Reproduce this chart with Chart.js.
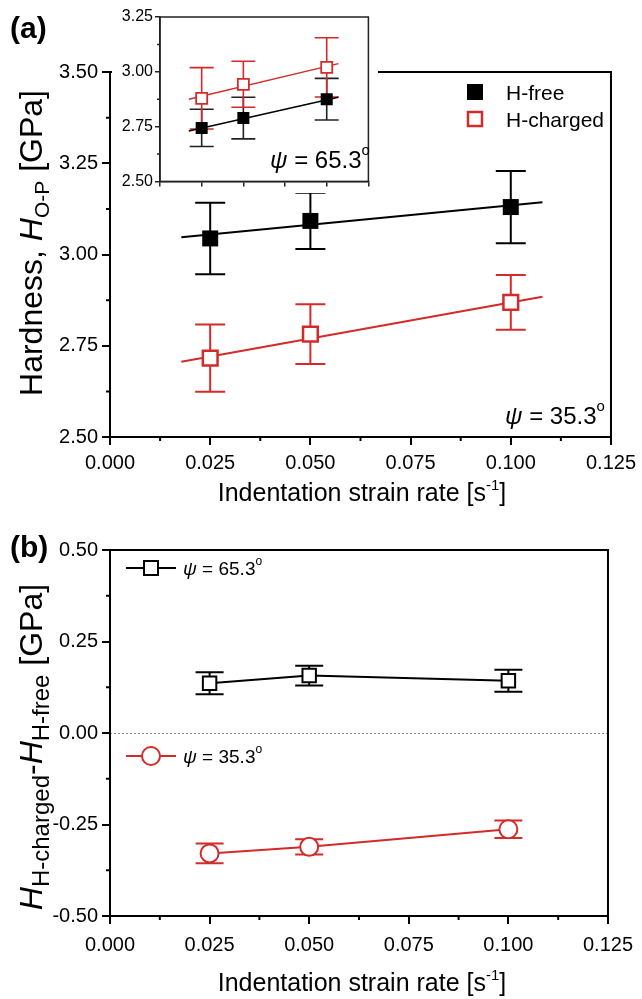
<!DOCTYPE html>
<html><head><meta charset="utf-8">
<script src="https://cdn.jsdelivr.net/npm/chart.js@4.4.1/dist/chart.umd.min.js"></script>
<style>
html,body{margin:0;padding:0;background:#fff;width:642px;height:999px;overflow:hidden}
body{position:relative}
canvas{position:absolute}
#ca{left:0;top:0}
#ci{left:112px;top:0;background:#fff}
#cb{left:0;top:525px}
</style></head><body>
<canvas id="ca" width="642" height="525"></canvas>
<canvas id="ci" width="266" height="193"></canvas>
<canvas id="cb" width="642" height="474"></canvas>
<script>
// ---------- data ----------
const rates = [0.025, 0.05, 0.1];
// panel (a), psi = 35.3
const hFree35 = [3.044, 3.092, 3.130];
const hFree35Err = [0.098, 0.077, 0.099];
const hCharged35 = [2.716, 2.782, 2.869];
const hCharged35Err = [0.092, 0.082, 0.075];
const fitX35 = [0.0178, 0.1079];
const fitFree35 = [3.047, 3.143];
const fitCharged35 = [2.706, 2.884];
// inset, psi = 65.3
const hFree65 = [2.744, 2.789, 2.875];
const hFree65Err = [0.085, 0.095, 0.095];
const hCharged65 = [2.879, 2.943, 3.020];
const hCharged65Err = [0.140, 0.105, 0.135];
const fitX65 = [0.0173, 0.107];
const fitFree65 = [2.730, 2.884];
const fitCharged65 = [2.875, 3.037];
// panel (b)
const diff65 = [0.136, 0.157, 0.143];
const diff65Err = [0.030, 0.027, 0.030];
const diff35 = [-0.329, -0.311, -0.263];
const diff35Err = [0.027, 0.021, 0.024];
// ticks
const xTicksA = [0, 0.025, 0.05, 0.075, 0.1, 0.125];
const yTicksA = [2.5, 2.75, 3.0, 3.25, 3.5];
const yTicksInset = [2.5, 2.75, 3.0, 3.25];
const yTicksB = [-0.5, -0.25, 0, 0.25, 0.5];

const RED = '#d42a2a';
const BLACK = '#000';
const FAM = '"Liberation Sans", Arial, Helvetica, sans-serif';
Chart.defaults.font.family = FAM;
Chart.defaults.color = '#000';

const pts = (xs, ys) => xs.map((x, i) => ({x, y: ys[i]}));

function richText(ctx, parts, x, y, opts) {
  opts = opts || {};
  ctx.save();
  ctx.translate(x, y);
  if (opts.rotate) ctx.rotate(opts.rotate);
  const fnt = p => `${p.style || 'normal'} ${p.weight || 'normal'} ${p.size}px ${FAM}`;
  let total = 0;
  const ws = parts.map(p => { ctx.font = fnt(p); const w = ctx.measureText(p.t).width; total += w + (p.gap || 0); return w; });
  let cx = opts.align === 'center' ? -total / 2 : (opts.align === 'right' ? -total : 0);
  ctx.fillStyle = opts.color || '#000';
  ctx.textBaseline = 'alphabetic';
  ctx.textAlign = 'left';
  parts.forEach((p, i) => { ctx.font = fnt(p); ctx.fillText(p.t, cx, p.dy || 0); cx += ws[i] + (p.gap || 0); });
  ctx.restore();
}

// error bars drawn from data through scales
const errorBars = {
  id: 'errorBars',
  beforeDatasetsDraw(chart) {
    const ctx = chart.ctx;
    chart.data.datasets.forEach((ds) => {
      if (!ds.errors) return;
      const xs = chart.scales.x, ys = chart.scales.y;
      ctx.save();
      ctx.strokeStyle = ds.errColor || ds.borderColor;
      ctx.lineWidth = ds.errWidth || 2;
      ds.data.forEach((d, i) => {
        const e = ds.errors[i];
        const px = xs.getPixelForValue(d.x);
        const pt = ys.getPixelForValue(d.y + e);
        const pb = ys.getPixelForValue(d.y - e);
        const c = ds.capHalf || 14;
        ctx.beginPath();
        ctx.moveTo(px, pt); ctx.lineTo(px, pb);
        ctx.moveTo(px - c, pt); ctx.lineTo(px + c, pt);
        ctx.moveTo(px - c, pb); ctx.lineTo(px + c, pb);
        ctx.stroke();
      });
      ctx.restore();
    });
  }
};

function frameAndMinor(chart, o) {
  const ctx = chart.ctx, a = chart.chartArea;
  ctx.save();
  ctx.strokeStyle = o.color || '#000';
  ctx.lineWidth = o.width || 2;
  ctx.strokeRect(a.left, a.top, a.right - a.left, a.bottom - a.top);
  ctx.beginPath();
  if (o.xMinor) o.xMinor.forEach(v => { const p = chart.scales.x.getPixelForValue(v); ctx.moveTo(p, a.bottom); ctx.lineTo(p, a.bottom + o.minorLen); });
  if (o.yMinor) o.yMinor.forEach(v => { const p = chart.scales.y.getPixelForValue(v); ctx.moveTo(a.left, p); ctx.lineTo(a.left - o.minorLen, p); });
  ctx.stroke();
  ctx.restore();
}
const mids = arr => arr.slice(1).map((v, i) => (v + arr[i]) / 2);

function axisCfg(min, max, ticks, dec, size, tickLen, pad, fit, isX, lw, col) {
  return {
    type: 'linear', min, max,
    afterBuildTicks: s => { s.ticks = ticks.map(v => ({value: v})); },
    ticks: { callback: v => dec < 0 ? '' : Number(v).toFixed(dec), font: {size}, color: '#000', padding: pad, maxRotation: 0, autoSkip: false },
    grid: { drawOnChartArea: false, drawTicks: true, tickLength: tickLen, tickWidth: lw, tickColor: col, color: col, lineWidth: lw },
    border: { display: true, color: col, width: lw },
    afterFit: s => { if (isX) s.height = fit; else s.width = fit; }
  };
}

// ---------------- Panel (a) ----------------
new Chart(document.getElementById('ca'), {
  type: 'scatter',
  data: { datasets: [
    { data: pts(rates, hFree35), errors: hFree35Err, capHalf: 15, errWidth: 2, borderColor: BLACK, backgroundColor: BLACK, pointStyle: 'rect', pointRadius: 11.3, borderWidth: 0, showLine: false },
    { data: pts(rates, hCharged35), errors: hCharged35Err, capHalf: 15, errWidth: 2, borderColor: RED, backgroundColor: '#fff', pointStyle: 'rect', pointRadius: 10.4, borderWidth: 2.5, showLine: false },
    { data: pts(fitX35, fitFree35), borderColor: BLACK, borderWidth: 2, pointRadius: 0, showLine: true },
    { data: pts(fitX35, fitCharged35), borderColor: RED, borderWidth: 2, pointRadius: 0, showLine: true }
  ]},
  options: {
    responsive: false, animation: false, events: [],
    layout: { padding: { left: 0, right: 29, top: 72, bottom: 0 } },
    plugins: { legend: { display: false }, tooltip: { enabled: false } },
    scales: {
      x: axisCfg(0, 0.125, xTicksA, 3, 20, 8, 6, 88, true, 2, '#000'),
      y: axisCfg(2.5, 3.5, yTicksA, 2, 20, 8, 4, 110, false, 2, '#000')
    }
  },
  plugins: [errorBars, {
    id: 'decoA',
    afterDraw(chart) {
      const ctx = chart.ctx;
      frameAndMinor(chart, { xMinor: mids(xTicksA), yMinor: mids(yTicksA), minorLen: 4 });
      // legend
      ctx.save();
      ctx.fillStyle = BLACK; ctx.fillRect(467, 84, 16, 16);
      ctx.strokeStyle = RED; ctx.lineWidth = 2.5; ctx.strokeRect(468, 112, 14, 14);
      ctx.restore();
      richText(ctx, [{t: 'H-free', size: 21}], 506, 100);
      richText(ctx, [{t: 'H-charged', size: 21}], 506, 127);
      richText(ctx, [{t: 'ψ', size: 24, style: 'italic'}, {t: ' = 35.3', size: 24}, {t: 'o', size: 15, dy: -13}], 505, 424);
      // titles
      richText(ctx, [{t: 'Indentation strain rate [s', size: 25}, {t: '-1', size: 15, dy: -11}, {t: ']', size: 25}], 362, 501, {align: 'center'});
      richText(ctx, [{t: 'Hardness, ', size: 32}, {t: 'H', size: 32, style: 'italic'}, {t: 'O-P', size: 21, dy: 7}, {t: ' [GPa]', size: 32}], 42, 243, {align: 'center', rotate: -Math.PI / 2});
      richText(ctx, [{t: '(a)', size: 30, weight: 'bold'}], 10, 38);
    }
  }]
});

// ---------------- Inset ----------------
new Chart(document.getElementById('ci'), {
  type: 'scatter',
  data: { datasets: [
    { data: pts(rates, hFree65), errors: hFree65Err, capHalf: 12, errWidth: 1.6, borderColor: '#222', backgroundColor: BLACK, pointStyle: 'rect', pointRadius: 8.5, borderWidth: 0, showLine: false },
    { data: pts(rates, hCharged65), errors: hCharged65Err, capHalf: 12, errWidth: 1.6, errColor: RED, borderColor: RED, backgroundColor: '#fff', pointStyle: 'rect', pointRadius: 7.8, borderWidth: 1.8, showLine: false },
    { data: pts(fitX65, fitFree65), borderColor: BLACK, borderWidth: 1.4, pointRadius: 0, showLine: true },
    { data: pts(fitX65, fitCharged65), borderColor: RED, borderWidth: 1.4, pointRadius: 0, showLine: true }
  ]},
  options: {
    responsive: false, animation: false, events: [],
    layout: { padding: { left: 0, right: 1, top: 17, bottom: 0 } },
    plugins: { legend: { display: false }, tooltip: { enabled: false } },
    scales: {
      x: axisCfg(0, 0.125, xTicksA, -1, 10, 5, 0, 10, true, 1.5, '#222'),
      y: axisCfg(2.5, 3.25, yTicksInset, 2, 16, 5, 2, 48, false, 1.5, '#222')
    }
  },
  plugins: [errorBars, {
    id: 'decoI',
    afterDraw(chart) {
      frameAndMinor(chart, { yMinor: mids(yTicksInset), minorLen: 3, width: 1.5, color: '#222' });
      richText(chart.ctx, [{t: 'ψ', size: 24, style: 'italic'}, {t: ' = 65.3', size: 24}, {t: 'o', size: 15, dy: -13}], 158, 168);
    }
  }]
});

// ---------------- Panel (b) ----------------
new Chart(document.getElementById('cb'), {
  type: 'scatter',
  data: { datasets: [
    { data: pts(rates, diff65), errors: diff65Err, capHalf: 14, errWidth: 2, borderColor: BLACK, backgroundColor: '#fff', pointStyle: 'rect', pointRadius: 9.5, borderWidth: 2, showLine: true },
    { data: pts(rates, diff35), errors: diff35Err, capHalf: 14, errWidth: 2, borderColor: RED, backgroundColor: '#fff', pointStyle: 'circle', pointRadius: 9, borderWidth: 2, showLine: true }
  ]},
  options: {
    responsive: false, animation: false, events: [],
    layout: { padding: { left: 0, right: 29, top: 25, bottom: 0 } },
    plugins: { legend: { display: false }, tooltip: { enabled: false } },
    scales: {
      x: axisCfg(0, 0.125, xTicksA, 3, 20, 8, 9, 83, true, 2, '#000'),
      y: axisCfg(-0.5, 0.5, yTicksB, 2, 20, 8, 4, 110, false, 2, '#000')
    }
  },
  plugins: [{
    id: 'zeroLine',
    beforeDatasetsDraw(chart) {
      const ctx = chart.ctx, a = chart.chartArea, y0 = chart.scales.y.getPixelForValue(0);
      ctx.save(); ctx.strokeStyle = '#8a8a8a'; ctx.lineWidth = 1; ctx.setLineDash([2, 2]);
      ctx.beginPath(); ctx.moveTo(a.left, y0 + 0.5); ctx.lineTo(a.right, y0 + 0.5); ctx.stroke(); ctx.restore();
    }
  }, errorBars, {
    id: 'decoB',
    afterDraw(chart) {
      const ctx = chart.ctx;
      frameAndMinor(chart, { xMinor: mids(xTicksA), yMinor: mids(yTicksB), minorLen: 4 });
      ctx.save();
      ctx.lineWidth = 2;
      ctx.strokeStyle = BLACK;
      ctx.beginPath(); ctx.moveTo(126, 43); ctx.lineTo(176, 43); ctx.stroke();
      ctx.fillStyle = '#fff'; ctx.fillRect(144, 36, 14, 14); ctx.strokeRect(144, 36, 14, 14);
      ctx.strokeStyle = RED;
      ctx.beginPath(); ctx.moveTo(126, 231); ctx.lineTo(176, 231); ctx.stroke();
      ctx.beginPath(); ctx.arc(151, 231, 9, 0, Math.PI * 2); ctx.fill(); ctx.stroke();
      ctx.restore();
      richText(ctx, [{t: 'ψ', size: 19, style: 'italic'}, {t: ' = 65.3', size: 19}, {t: 'o', size: 12, dy: -10}], 183, 50);
      richText(ctx, [{t: 'ψ', size: 19, style: 'italic'}, {t: ' = 35.3', size: 19}, {t: 'o', size: 12, dy: -10}], 183, 238);
      richText(ctx, [{t: 'Indentation strain rate [s', size: 25}, {t: '-1', size: 15, dy: -11}, {t: ']', size: 25}], 362, 466, {align: 'center'});
      richText(ctx, [{t: 'H', size: 32, style: 'italic'}, {t: 'H-charged', size: 24, dy: 7}, {t: '-', size: 32}, {t: 'H', size: 32, style: 'italic'}, {t: 'H-free', size: 24, dy: 7}, {t: ' [GPa]', size: 32}], 42, 222, {align: 'center', rotate: -Math.PI / 2});
      richText(ctx, [{t: '(b)', size: 30, weight: 'bold'}], 10, 32);
    }
  }]
});
</script>
</body></html>
